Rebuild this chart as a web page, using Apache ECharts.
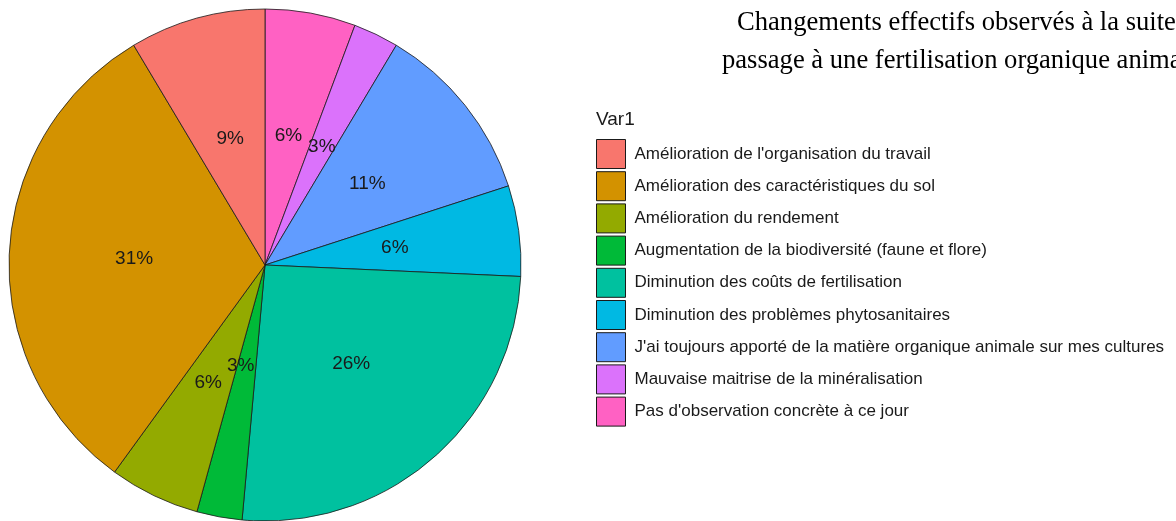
<!DOCTYPE html>
<html>
<head>
<meta charset="utf-8">
<script src="https://cdn.jsdelivr.net/npm/echarts@6/dist/echarts.min.js"></script>
<style>
  html, body { margin: 0; padding: 0; background: #fff; }
  #chart { width: 1176px; height: 521px; }
</style>
</head>
<body>
<div id="chart"></div>
<script>
// categories in legend order (Var1 levels)
const categories = [
  "Amélioration de l'organisation du travail",
  'Amélioration des caractéristiques du sol',
  'Amélioration du rendement',
  'Augmentation de la biodiversité (faune et flore)',
  'Diminution des coûts de fertilisation',
  'Diminution des problèmes phytosanitaires',
  "J'ai toujours apporté de la matière organique animale sur mes cultures",
  'Mauvaise maitrise de la minéralisation',
  "Pas d'observation concrète à ce jour"
]
const counts = [3, 11, 2, 1, 9, 2, 4, 1, 2]
const colors = ['#F8766D', '#D39200', '#93AA00', '#00BA38', '#00C19F', '#00B9E3', '#619CFF', '#DB72FB', '#FF61C3']
const titleLines = ['Changements effectifs observés à la suite du', 'passage à une fertilisation organique animale']

// ggplot draws the last level first, clockwise from 12 o'clock
let pieData = []
for (let i = categories.length - 1; i >= 0; i--) {
  let item = {
    name: categories[i],
    value: counts[i],
    itemStyle: { color: colors[i] }
  }
  // the small green slice label sits a bit closer to the centre in the original
  if (i === 3) item.label = { offset: [-1, -28] }
  pieData.push(item)
}

const titleStyle = function (text) {
  return {
    text: text,
    font: '26.6px "Liberation Serif"',
    fill: '#000',
    align: 'left', textAlign: 'left',
    verticalAlign: 'middle', textVerticalAlign: 'middle'
  }
}

const chart = echarts.init(document.getElementById('chart'))
const option = {
  animation: false,
  backgroundColor: '#fff',
  legend: {
    orient: 'vertical',
    left: 596,
    top: 139,
    padding: 0,
    itemWidth: 29,
    itemHeight: 29,
    itemGap: 2.2,
    icon: 'rect',
    selectedMode: false,
    data: categories,
    itemStyle: { borderColor: '#1a1a1a', borderWidth: 1 },
    textStyle: {
      fontFamily: 'Liberation Sans',
      fontSize: 17,
      color: '#1a1a1a',
      padding: [2, 0, 0, 4]
    }
  },
  graphic: [
    {
      type: 'text',
      x: 596,
      y: 120,
      style: {
        text: 'Var1',
        font: '19px "Liberation Sans"',
        fill: '#1a1a1a',
        align: 'left', textAlign: 'left',
        verticalAlign: 'middle', textVerticalAlign: 'middle'
      }
    },
    { type: 'text', x: 737, y: 23, style: titleStyle(titleLines[0]) },
    { type: 'text', x: 722, y: 61, style: titleStyle(titleLines[1]) }
  ],
  series: [
    {
      type: 'pie',
      center: [265, 265],
      radius: 256,
      startAngle: 90,
      clockwise: true,
      silent: true,
      itemStyle: { borderColor: '#1a1a1a', borderWidth: 0.8 },
      label: {
        show: true,
        position: 'inside',
        fontFamily: 'Liberation Sans',
        fontSize: 19,
        color: '#1a1a1a',
        formatter: function (p) {
          return Math.round(p.percent) + '%'
        }
      },
      labelLine: { show: false },
      emphasis: { disabled: true },
      data: pieData
    }
  ]
}
chart.setOption(option)
</script>
</body>
</html>
